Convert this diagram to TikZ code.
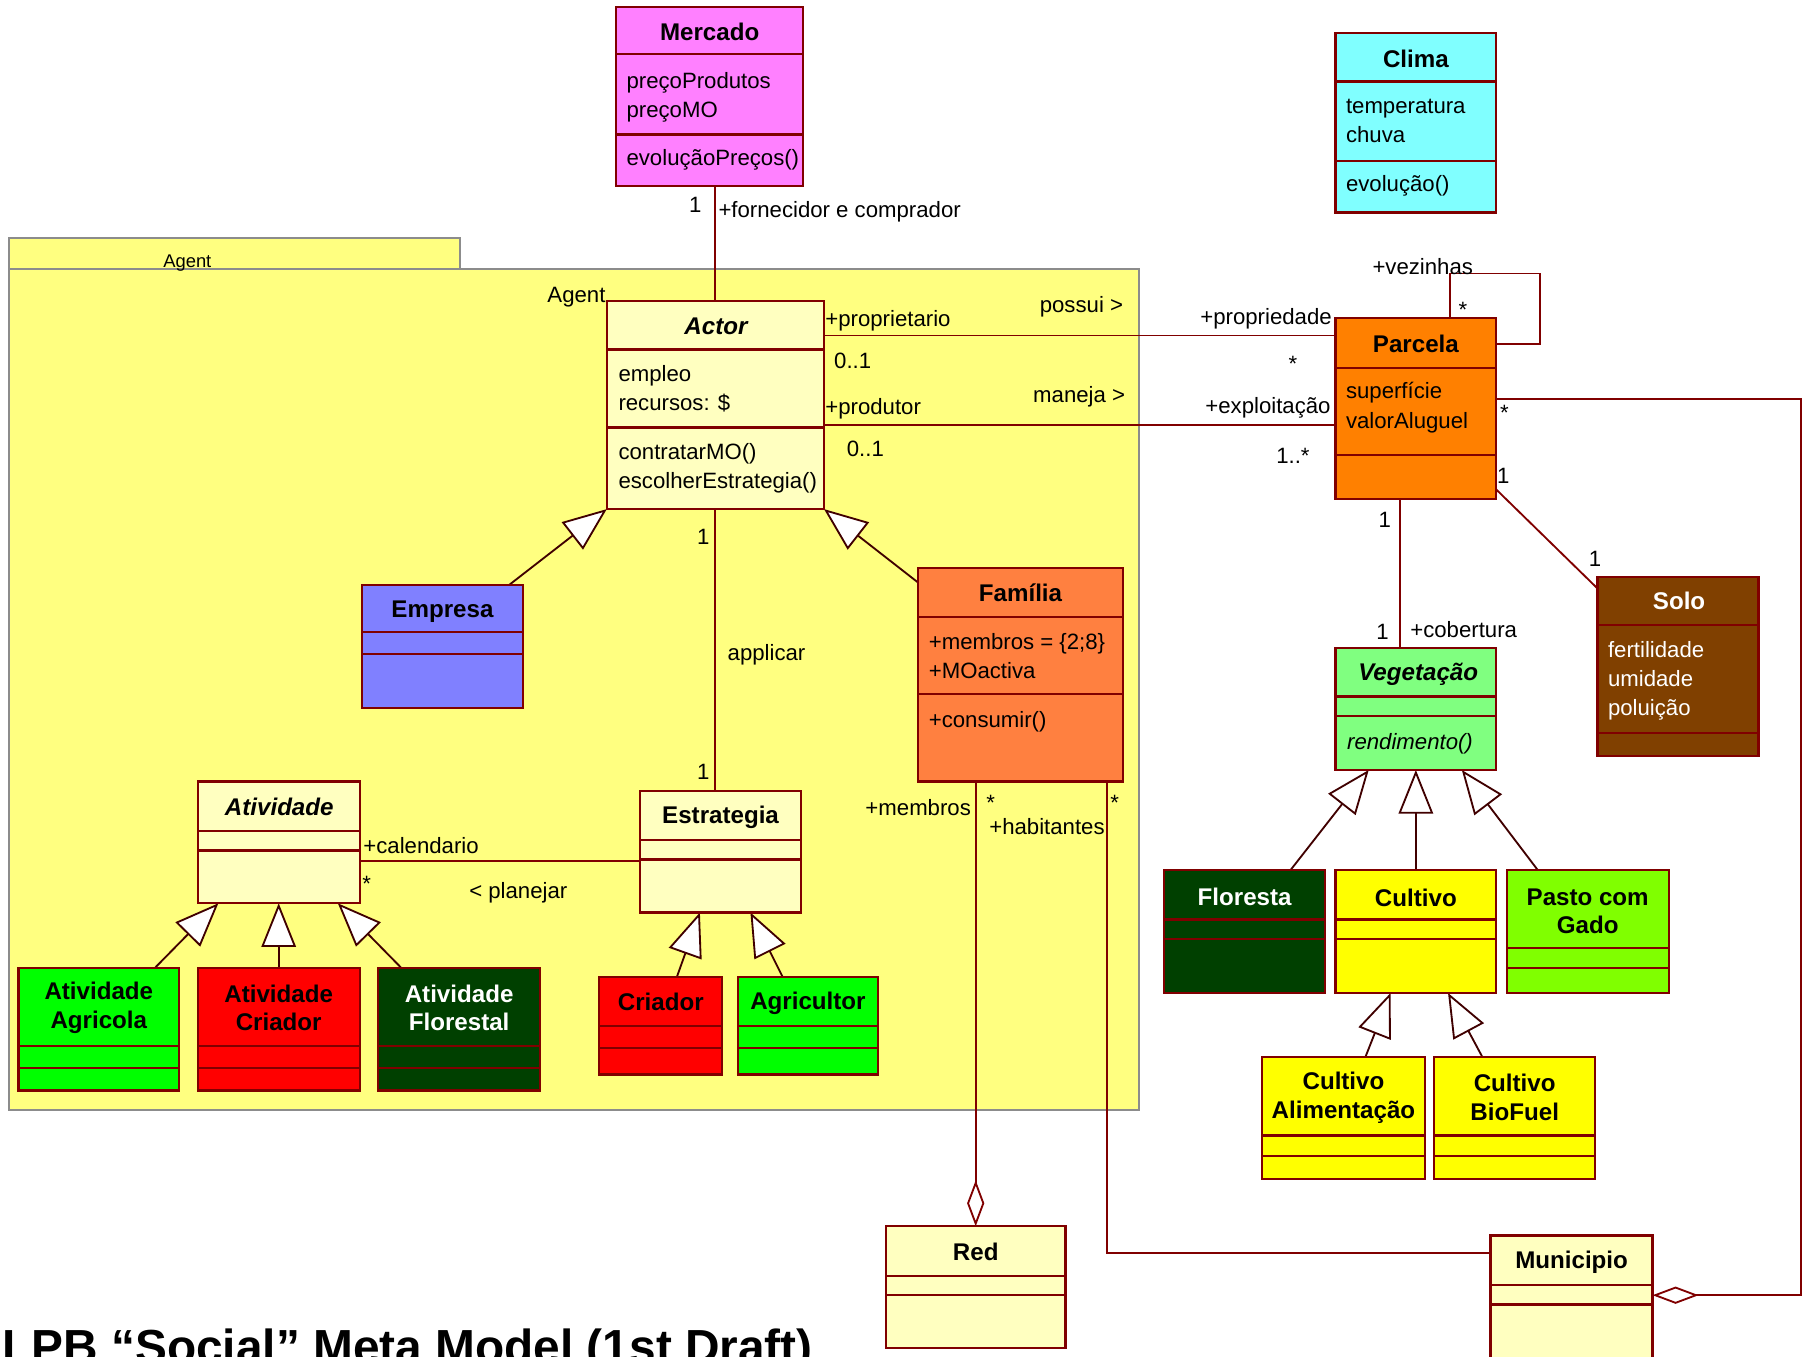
\documentclass[tikz,border=0pt]{standalone}
\usepackage{fontspec}
\setmainfont{Liberation Sans}
\usetikzlibrary{arrows.meta,fit}
\definecolor{lnred}{HTML}{800000}
\definecolor{gnred}{HTML}{400000}
\definecolor{pkgfill}{HTML}{FFFF80}
\definecolor{pkgline}{HTML}{8C8C8C}
\definecolor{cmag}{HTML}{FF80FF}
\definecolor{ccyan}{HTML}{80FFFF}
\definecolor{clyel}{HTML}{FFFFC0}
\definecolor{cblue}{HTML}{8080FF}
\definecolor{cfam}{HTML}{FF8040}
\definecolor{cgrn}{HTML}{00FF00}
\definecolor{cred}{HTML}{FF0000}
\definecolor{cdgrn}{HTML}{004000}
\definecolor{corange}{HTML}{FF8000}
\definecolor{cbrown}{HTML}{804000}
\definecolor{clgrn}{HTML}{80FF80}
\definecolor{cyel}{HTML}{FFFF00}
\definecolor{cchart}{HTML}{80FF00}
\pgfdeclarelayer{pkglayer}
\pgfdeclarelayer{connlayer}
\pgfsetlayers{pkglayer,connlayer,main}
\newcounter{tnum}
\newcommand\clsbox[8]{%
  \node[cls, fill=#8, fit={(#2,#3) (#4,#5)}] (#1) {};
  \draw[sepl] (#2,#6) -- (#4,#6);
  \draw[sepl] (#2,#7) -- (#4,#7);
}
\newcommand\atxt[4][]{\stepcounter{tnum}\node[attr,#1] (a-\arabic{tnum}) at (#2,#3) {#4};}
\newcommand\ltxt[4][]{\stepcounter{tnum}\node[lbl,#1] (l-\arabic{tnum}) at (#2,#3) {#4};}
\begin{document}
\begin{tikzpicture}[x=1pt,y=-1pt,
  cls/.style={draw=lnred, line width=2pt, inner sep=0pt, outer sep=0pt},
  sepl/.style={draw=lnred, line width=2pt},
  pkg/.style={draw=pkgline, fill=pkgfill, line width=1.8pt, inner sep=0pt, outer sep=0pt},
  ttl/.style={font=\fontsize{21}{25}\selectfont\bfseries, align=center, inner sep=0pt},
  attr/.style={font=\fontsize{19.3}{25}\selectfont, anchor=west, inner sep=0pt, text height=14pt, text depth=4pt},
  lbl/.style={font=\fontsize{19.3}{23}\selectfont, inner sep=0pt},
  assoc/.style={draw=lnred, line width=1.6pt},
  gen/.style={draw=gnred, line width=1.6pt, -{Triangle[length=38pt,width=30pt,fill=white]}},
  agg/.style={draw=lnred, line width=1.6pt, -{Diamond[length=40pt,width=15pt,fill=white]}}]
\useasboundingbox (0,0) rectangle (1568,1180);

% ---------- package ----------
\begin{pgfonlayer}{pkglayer}
\node[pkg, fit={(8,207) (400,234)}] (pkgtab) {};
\node[pkg, fit={(8,234) (991,966)}] (pkg) {};
\node[font=\fontsize{16}{18}\selectfont, inner sep=0pt, anchor=base] (pkgname) at (163,233) {Agent};
\node[font=\fontsize{19.3}{22}\selectfont, inner sep=0pt, anchor=east] (pkgname2) at (527,259) {Agent};
\end{pgfonlayer}

% ---------- classes ----------
\clsbox{mercado}{536}{6}{699}{162}{47}{117}{cmag}
\clsbox{clima}{1162}{29}{1302}{185}{71}{140}{ccyan}
\clsbox{actor}{528}{262}{717}{443}{304}{372}{clyel}
\clsbox{empresa}{315}{509}{455}{616}{550}{569}{cblue}
\clsbox{familia}{799}{494}{977}{680}{537}{604}{cfam}
\clsbox{atividade}{172}{680}{313}{786}{723}{740}{clyel}
\clsbox{estrategia}{557}{688}{697}{794}{731}{748}{clyel}
\clsbox{atagr}{16}{842}{156}{949}{910}{929}{cgrn}
\clsbox{atcri}{172}{842}{313}{949}{910}{929}{cred}
\clsbox{atflo}{329}{842}{470}{949}{910}{929}{cdgrn}
\clsbox{criador}{521}{850}{628}{935}{893}{912}{cred}
\clsbox{agricultor}{642}{850}{764}{935}{893}{912}{cgrn}
\clsbox{parcela}{1162}{277}{1302}{434}{320}{396}{corange}
\clsbox{solo}{1390}{502}{1530}{658}{544}{638}{cbrown}
\clsbox{vegetacao}{1162}{564}{1302}{670}{606}{623}{clgrn}
\clsbox{floresta}{1013}{757}{1153}{864}{800}{817}{cdgrn}
\clsbox{cultivo}{1162}{757}{1302}{864}{800}{817}{cyel}
\clsbox{pasto}{1311}{757}{1452}{864}{825}{842}{cchart}
\clsbox{cultalim}{1098}{920}{1240}{1026}{988}{1006}{cyel}
\clsbox{cultbio}{1248}{920}{1388}{1026}{988}{1006}{cyel}
\clsbox{red}{771}{1067}{927}{1173}{1110}{1127}{clyel}
\clsbox{municipio}{1297}{1075}{1438}{1210}{1118}{1135}{clyel}

% ---------- titles ----------
\node[ttl] (t-mercado) at (617.5,28) {Mercado};
\node[ttl] (t-clima) at (1232,51) {Clima};
\node[ttl, font=\fontsize{21}{25}\selectfont\bfseries\itshape] (t-actor) at (623,284) {Actor};
\node[ttl] (t-empresa) at (385,532) {Empresa};
\node[ttl] (t-familia) at (888,516) {Família};
\node[ttl, font=\fontsize{21}{25}\selectfont\bfseries\itshape] (t-atividade) at (243,702) {Atividade};
\node[ttl] (t-estrategia) at (627,711) {Estrategia};
\node[ttl] (t-atagr) at (86,877) {Atividade\\Agricola};
\node[ttl] (t-atcri) at (242.5,877) {Atividade\\Criador};
\node[ttl, text=white] (t-atflo) at (399.5,877) {Atividade\\Florestal};
\node[ttl] (t-criador) at (575,872) {Criador};
\node[ttl] (t-agricultor) at (703,873) {Agricultor};
\node[ttl] (t-parcela) at (1232,299) {Parcela};
\node[ttl, text=white] (t-solo) at (1461,523) {Solo};
\node[ttl, font=\fontsize{21}{25}\selectfont\bfseries\itshape] (t-vegetacao) at (1234,587) {Vegetação};
\node[ttl, text=white] (t-floresta) at (1083,780) {Floresta};
\node[ttl] (t-cultivo) at (1232,781) {Cultivo};
\node[ttl] (t-pasto) at (1381.5,793) {Pasto com\\Gado};
\node[ttl] (t-cultalim) at (1169,955) {Cultivo\\Alimentação};
\node[ttl] (t-cultbio) at (1318,955) {Cultivo\\BioFuel};
\node[ttl] (t-red) at (849,1089) {Red};
\node[ttl] (t-municipio) at (1367.5,1098) {Municipio};

% ---------- attributes / operations ----------
\atxt{545}{72}{preçoProdutos}
\atxt{545}{97}{preçoMO}
\atxt{545}{139}{evoluçãoPreços()}
\atxt{1171}{94}{temperatura}
\atxt{1171}{119}{chuva}
\atxt{1171}{162}{evolução()}
\atxt{538}{327}{empleo}
\atxt{538}{352}{recursos: \$}
\atxt{538}{395}{contratarMO()}
\atxt{538}{420}{escolherEstrategia()}
\atxt{808}{560}{+membros = \{2;8\}}
\atxt{808}{585}{+MOactiva}
\atxt{808}{628}{+consumir()}
\atxt{1171}{342}{superfície}
\atxt{1171}{368}{valorAluguel}
\atxt[text=white]{1399}{567}{fertilidade}
\atxt[text=white]{1399}{592}{umidade}
\atxt[text=white]{1399}{618}{poluição}
\atxt[font=\fontsize{19.3}{25}\selectfont\itshape]{1172}{647}{rendimento()}

% ---------- connectors ----------
\coordinate (loopc) at (1340,238);
\coordinate (rc) at (1567,1127);
\begin{pgfonlayer}{connlayer}
\draw[assoc] (mercado.south -| actor.north) -- (actor.north);
\draw[assoc] (actor.east |- 0,292) -- (parcela.west |- 0,292);
\draw[assoc] (actor.east |- 0,370) -- (parcela.west |- 0,370);
\draw[assoc] (parcela.north -| 1262,0) |- (loopc) |- (parcela.east |- 0,299);
\draw[agg] (parcela.east |- 0,347) -| (rc) -- (municipio.east |- rc);
\draw[assoc] (parcela.east |- 0,426) -- (solo.west |- 0,512);
\draw[assoc] (parcela.south -| 1218,0) -- (vegetacao.north -| 1218,0);
\draw[assoc] (actor.south) -- (actor.south |- estrategia.north);
\draw[assoc] (atividade.east |- 0,749) -- (estrategia.west |- 0,749);
\draw[agg] (red.north |- familia.south) -- (red.north);
\draw[assoc] (familia.south -| 963,0) |- (municipio.west |- 0,1090);
% generalizations
\draw[gen] (empresa.north -| 443,0) -- (actor.south west);
\draw[gen] (familia.west |- 0,507) -- (actor.south east);
\draw[gen] (atagr.north -| 135,0) -- (atividade.south -| 190,0);
\draw[gen] (atcri.north) -- (atividade.south);
\draw[gen] (atflo.north -| 349,0) -- (atividade.south -| 294,0);
\draw[gen] (criador.north -| 589,0) -- (estrategia.south -| 609,0);
\draw[gen] (agricultor.north -| 681,0) -- (estrategia.south -| 653,0);
\draw[gen] (floresta.north -| 1123,0) -- (vegetacao.south -| 1191,0);
\draw[gen] (cultivo.north) -- (vegetacao.south);
\draw[gen] (pasto.north -| 1338,0) -- (vegetacao.south -| 1272,0);
\draw[gen] (cultalim.north -| 1188,0) -- (cultivo.south -| 1210,0);
\draw[gen] (cultbio.north -| 1290,0) -- (cultivo.south -| 1260,0);
\end{pgfonlayer}

% ---------- connector labels ----------
\ltxt{605}{178}{1}
\ltxt[anchor=west]{625}{184}{+fornecidor e comprador}
\ltxt[anchor=west]{718}{279}{+proprietario}
\ltxt{941}{267}{possui >}
\ltxt{742}{314}{0..1}
\ltxt[anchor=east]{1159}{277}{+propriedade}
\ltxt{1125}{317}{*}
\ltxt[anchor=west]{718}{356}{+produtor}
\ltxt{939}{345}{maneja >}
\ltxt{753}{391}{0..1}
\ltxt[anchor=east]{1158}{355}{+exploitação}
\ltxt{1125}{397}{1..*}
\ltxt{1238}{232}{+vezinhas}
\ltxt{1273}{270}{*}
\ltxt{1309}{359}{*}
\ltxt{1308}{414}{1}
\ltxt{1388}{486}{1}
\ltxt{1205}{452}{1}
\ltxt{1203}{550}{1}
\ltxt[anchor=west]{1227}{548}{+cobertura}
\ltxt{612}{467}{1}
\ltxt{667}{570}{applicar}
\ltxt{612}{672}{1}
\ltxt[anchor=west]{316}{736}{+calendario}
\ltxt{319}{769}{*}
\ltxt{451}{777}{< planejar}
\ltxt[anchor=east]{845}{703}{+membros}
\ltxt{862}{699}{*}
\ltxt{911}{719}{+habitantes}
\ltxt{970}{699}{*}

% ---------- title ----------
\node[font=\fontsize{41.6}{46}\selectfont\bfseries, inner sep=0pt, anchor=base west] (title) at (2,1186) {LPB “Social” Meta Model (1st Draft)};
\end{tikzpicture}
\end{document}
